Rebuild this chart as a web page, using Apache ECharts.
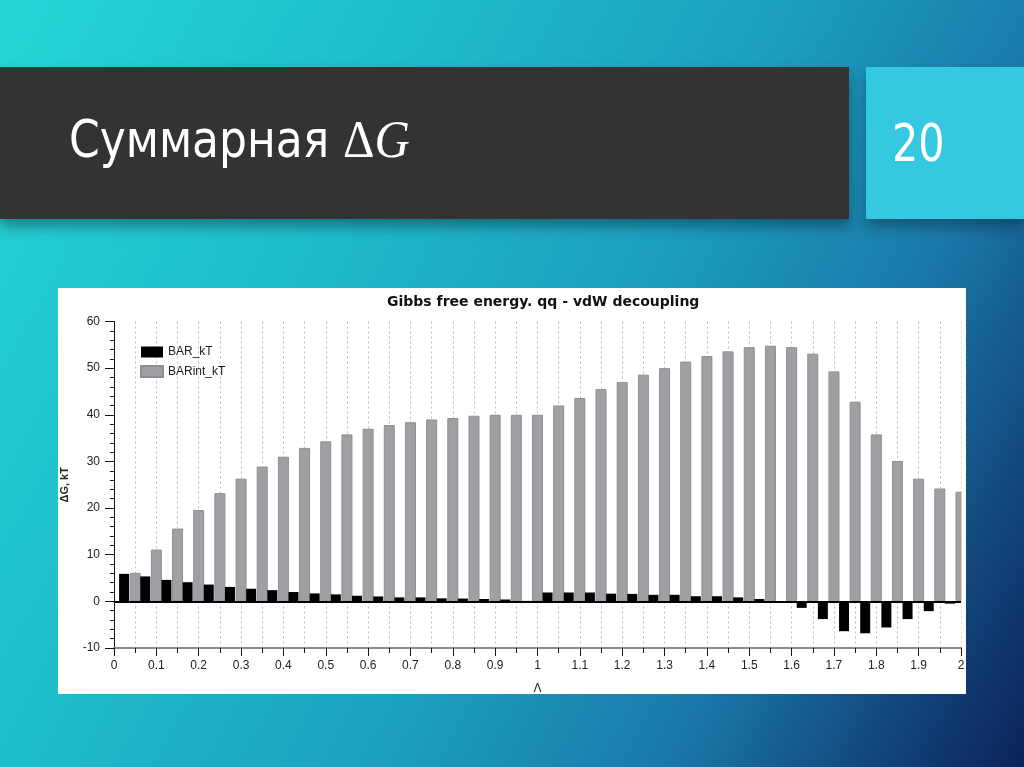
<!DOCTYPE html>
<html>
<head>
<meta charset="utf-8">
<script src="https://cdn.jsdelivr.net/npm/echarts@6/dist/echarts.min.js"></script>
<style>
  html, body { margin:0; padding:0; width:1024px; height:767px; overflow:hidden; }
  #slide { position:absolute; left:0; top:0; width:1024px; height:767px;
    background: linear-gradient(118deg, #25d6d6 0%, #1fbcca 30%, #1c9fc0 55%, #1a78a8 75%, #12427a 90%, #0b2258 100%); }
  #titlebar { position:absolute; left:0; top:67px; width:849px; height:152px; background:#333333;
    box-shadow: 0 8px 12px rgba(0,0,0,0.35); }
  #titletext { position:absolute; left:69px; top:104px; color:#fff; font-family:"Liberation Sans Narrow","DejaVu Sans Condensed",sans-serif;
    font-size:52px; line-height:70px; white-space:nowrap; transform:scaleX(0.94); transform-origin:0 0; }
  #titletext .m { font-family:"Liberation Serif","DejaVu Serif",serif; }
  #num { position:absolute; left:866px; top:67px; width:158px; height:152px; background:#35c9e1;
    box-shadow: 0 8px 12px rgba(0,0,0,0.3); }
  #numtext { position:absolute; left:892px; top:109px; color:#fff; font-family:"Liberation Sans Narrow","DejaVu Sans Condensed",sans-serif;
    font-size:51px; line-height:70px; transform:scaleX(0.9); transform-origin:0 0; }
  #chart { position:absolute; left:58px; top:288px; width:908px; height:406px; background:#fff; }
</style>
</head>
<body>
<div id="slide"></div>
<div id="titlebar"></div>
<div id="titletext">Суммарная <span class="m">Δ<i>G</i></span></div>
<div id="num"></div>
<div id="numtext">20</div>
<div id="chart"></div>
<script>
// λ positions of the BAR_kT bars and BARint_kT bars
const lambdaBAR = [0.025,0.075,0.125,0.175,0.225,0.275,0.325,0.375,0.425,0.475,
                   0.525,0.575,0.625,0.675,0.725,0.775,0.825,0.875,0.925,0.975,
                   1.025,1.075,1.125,1.175,1.225,1.275,1.325,1.375,1.425,1.475,
                   1.525,1.575,1.625,1.675,1.725,1.775,1.825,1.875,1.925,1.975];
const lambdaInt = [0.05,0.1,0.15,0.2,0.25,0.3,0.35,0.4,0.45,0.5,
                   0.55,0.6,0.65,0.7,0.75,0.8,0.85,0.9,0.95,1.0,
                   1.05,1.1,1.15,1.2,1.25,1.3,1.35,1.4,1.45,1.5,
                   1.55,1.6,1.65,1.7,1.75,1.8,1.85,1.9,1.95,2.0];
const barKT = [5.9,5.35,4.6,4.1,3.6,3.1,2.7,2.4,2.0,1.7,
               1.5,1.2,1.05,0.85,0.85,0.65,0.6,0.5,0.4,0.1,
               1.9,1.9,1.9,1.65,1.6,1.4,1.4,1.1,1.1,0.85,
               0.5,0.05,-1.4,-3.8,-6.4,-6.85,-5.6,-3.8,-2.1,-0.5];
const barIntKT = [6.1,11.1,15.6,19.6,23.2,26.3,28.9,31.0,32.9,34.3,
                  35.8,37.0,37.8,38.4,39.0,39.3,39.8,40.0,40.0,40.0,
                  42.0,43.6,45.5,47.0,48.6,50.0,51.4,52.6,53.6,54.5,
                  54.8,54.5,53.1,49.3,42.8,35.8,30.1,26.3,24.2,23.5];
const seriesNames = ['BAR_kT', 'BARint_kT'];
const chartTitle = 'Gibbs free energy. qq - vdW decoupling';
const xName = 'Λ';
const yName = 'ΔG, kT';

const chart = echarts.init(document.getElementById('chart'));
const labelFont = { fontFamily: 'Liberation Sans Narrow, Liberation Sans, Arial, sans-serif', fontSize: 12, color: '#222' };
chart.setOption({
  animation: false,
  backgroundColor: '#fff',
  title: { text: chartTitle, left: 324, top: 2,
    textStyle: { fontFamily: 'DejaVu Sans, Verdana, sans-serif', fontWeight: 'bold', fontSize: 14, color: '#111' } },
  legend: { orient: 'vertical', left: 77, top: 53, itemWidth: 22, itemHeight: 11, itemGap: 7, icon: 'rect',
    textStyle: { fontFamily: 'Liberation Sans, Arial, sans-serif', fontSize: 12, color: '#222' },
    data: seriesNames },
  grid: { left: 56, right: 5, top: 33.5, bottom: 46, containLabel: false, outerBoundsMode: 'none' },
  // white margin strip right of the plot so the last bar is cut at λ = 2, as in the original
  graphic: [{ type: 'rect', right: 0, top: 20, z: 100, silent: true,
    shape: { width: 4.5, height: 338 }, style: { fill: '#fff' } }],
  xAxis: {
    type: 'value', min: 0, max: 2, interval: 0.1,
    name: xName, nameLocation: 'middle', nameGap: 35,
    nameTextStyle: labelFont,
    axisLine: { onZero: false, lineStyle: { color: '#888', width: 2 } },
    axisTick: { length: 8, lineStyle: { color: '#111' } },
    minorTick: { show: true, splitNumber: 2, length: 5, lineStyle: { color: '#111' } },
    axisLabel: Object.assign({ margin: 12 }, labelFont),
    splitLine: { show: true, lineStyle: { color: '#bbb', type: [2, 3] } },
    minorSplitLine: { show: true, lineStyle: { color: '#bbb', type: [2, 3] } }
  },
  yAxis: {
    type: 'value', min: -10, max: 60, interval: 10,
    name: yName, nameLocation: 'middle', nameGap: 44,
    nameTextStyle: { fontFamily: 'Liberation Sans, Arial, sans-serif', fontSize: 11, fontWeight: 'bold', color: '#222' },
    axisLine: { show: true, lineStyle: { color: '#111' } },
    axisTick: { length: 9, lineStyle: { color: '#111' } },
    minorTick: { show: true, splitNumber: 5, length: 4, lineStyle: { color: '#111' } },
    axisLabel: Object.assign({ margin: 14 }, labelFont),
    splitLine: { show: false }
  },
  series: [
    { name: seriesNames[0], type: 'bar', barWidth: 10, clip: true,
      itemStyle: { color: '#000' },
      data: lambdaBAR.map((x, i) => [x, barKT[i]]),
      markLine: { silent: true, symbol: 'none', label: { show: false },
        lineStyle: { color: '#000', width: 2, type: 'solid' }, data: [{ yAxis: 0 }] },
      z: 3 },
    { name: seriesNames[1], type: 'bar', barWidth: 11, barGap: '-100%', clip: true,
      itemStyle: { color: '#a0a0a4', borderColor: '#8e8e92', borderWidth: 1 },
      data: lambdaInt.map((x, i) => [x, barIntKT[i]]),
      z: 2 }
  ]
});
</script>
</body>
</html>
